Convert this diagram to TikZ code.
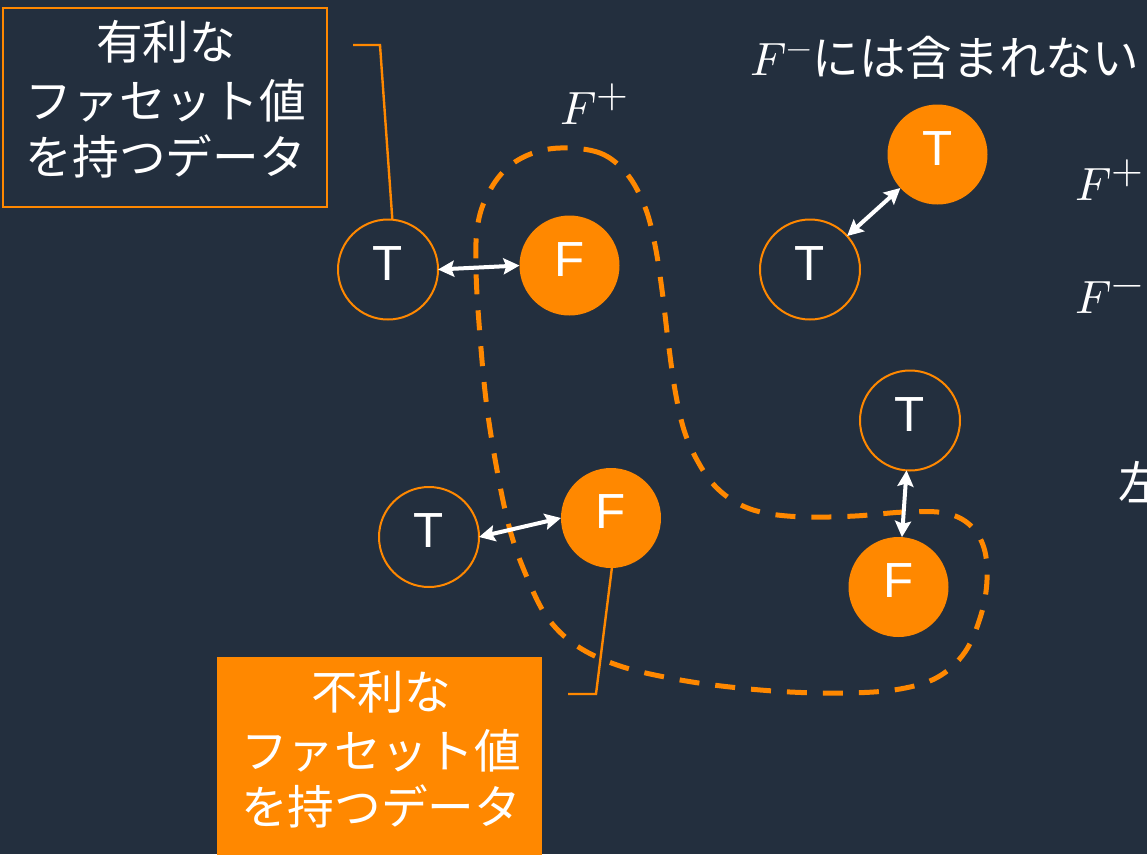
\documentclass[tikz,border=0pt]{standalone}
\usepackage{fontspec}
\usepackage{unicode-math}
\setmainfont{Liberation Sans}
\setmathfont{Latin Modern Math}
\newfontfamily\cjk{Noto Sans CJK JP}
\usetikzlibrary{arrows.meta,calc}
\definecolor{bg}{HTML}{232F3E}
\definecolor{org}{HTML}{FF8800}
\newcommand{\bigsup}[1]{^{\scalebox{1.25}{$\scriptstyle #1$}}}
\begin{document}
\begin{tikzpicture}[x=0.75pt,y=-0.75pt,
  every node/.style={inner sep=0pt,outer sep=0pt},
  tnode/.style={circle,draw=org,line width=1.5pt,minimum size=75pt},
  fnode/.style={circle,fill=org,minimum size=75pt},
  letter/.style={text=white,font=\fontsize{37pt}{40pt}\selectfont},
  jp/.style={text=white,font=\cjk\fontsize{35pt}{43pt}\selectfont,anchor=base},
  mtext/.style={text=white,font=\cjk\fontsize{35pt}{43pt}\selectfont,anchor=base west},
  dbl/.style={white,line width=3pt,{Stealth[length=12pt,width=12pt,inset=2pt]}-{Stealth[length=12pt,width=12pt,inset=2pt]}},
  callout/.style={org,line width=1.8pt},
  region/.style={org,line width=3.75pt,dash pattern=on 15pt off 12pt}
]
\useasboundingbox (0,0) rectangle (1147,854);
\clip (0,0) rectangle (1147,854);
\fill[bg] (0,0) rectangle (1147,854);

% dashed region F+
\draw[region] plot[smooth cycle,tension=0.6] coordinates {
 (560,148) (600,153) (627,174) (645,207) (655,245) (662,290) (668,340)
 (675,390) (684,430) (697,460) (714,485) (737,503) (765,513) (805,517)
 (855,516) (905,512) (945,513) (970,525) (984,548) (987,580) (981,615)
 (965,652) (938,677) (900,689) (850,693) (790,692) (730,687) (675,679)
 (620,666) (577,646) (547,617) (526,575) (510,530) (497,470) (486,400)
 (479,323) (476,270) (477,230) (485,200) (503,172) (528,155)};

% boxes
\node[draw=org,line width=1.8pt,fill=bg,minimum width=243pt,minimum height=149.25pt] (goodbox) at (165,107.5) {};
\node[jp] (g1) at (166,59) {有利な};
\node[jp] (g2) at (166,118) {ファセット値};
\node[jp] (g3) at (166,174) {を持つデータ};

\node[fill=org,minimum width=243.75pt,minimum height=152.25pt] (badbox) at (379.5,758.5) {};
\node[jp] (b1) at (381,709) {不利な};
\node[jp] (b2) at (381,768) {ファセット値};
\node[jp] (b3) at (381,824) {を持つデータ};

% circles
\node[tnode] (T1) at (388,269.5) {};
\node[fnode] (F1) at (569.5,265.5) {};
\node[tnode] (T2) at (810,269.5) {};
\node[fnode] (T3) at (937.5,154.5) {};
\node[tnode] (T4) at (910,420.5) {};
\node[fnode] (F2) at (898.5,587) {};
\node[tnode] (T5) at (429,537) {};
\node[fnode] (F3) at (611,518) {};

\node[letter] (lT1) at ($(T1)+(0,-6)$) {T};
\node[letter] (lF1) at ($(F1)+(0,-6)$) {F};
\node[letter] (lT2) at ($(T2)+(0,-6)$) {T};
\node[letter] (lT3) at ($(T3)+(0,-6)$) {T};
\node[letter] (lT4) at ($(T4)+(0,-6)$) {T};
\node[letter] (lF2) at ($(F2)+(0,-6)$) {F};
\node[letter] (lT5) at ($(T5)+(0,-6)$) {T};
\node[letter] (lF3) at ($(F3)+(0,-6)$) {F};

% arrows
\draw[dbl] (T1.east) -- (F1.west);
\draw[dbl] (T2) -- (T3);
\draw[dbl] (T4) -- (F2);
\draw[dbl] (T5.east) -- (F3.west);

% callouts
\coordinate (c1a) at (353,45);
\coordinate (c1b) at (380,45);
\draw[callout] (c1a) -- (c1b) -- (T1.85);
\coordinate (c2a) at (596,694);
\coordinate (c2b) at (568,694);
\draw[callout] (F3.271) -- (c2a) -- (c2b);

% labels
\node[mtext] (fplus) at (560,124) {$F\bigsup{+}$};
\node[mtext] (title) at (750,75) {$F^{-}$には含まれない};
\node[mtext] (rp) at (1075,200) {$F\bigsup{+}\,:$};
\node[mtext] (rm) at (1075,313) {$F\bigsup{-}\,:$};
\node[mtext] (rl) at (1118,500) {左};
\end{tikzpicture}
\end{document}
